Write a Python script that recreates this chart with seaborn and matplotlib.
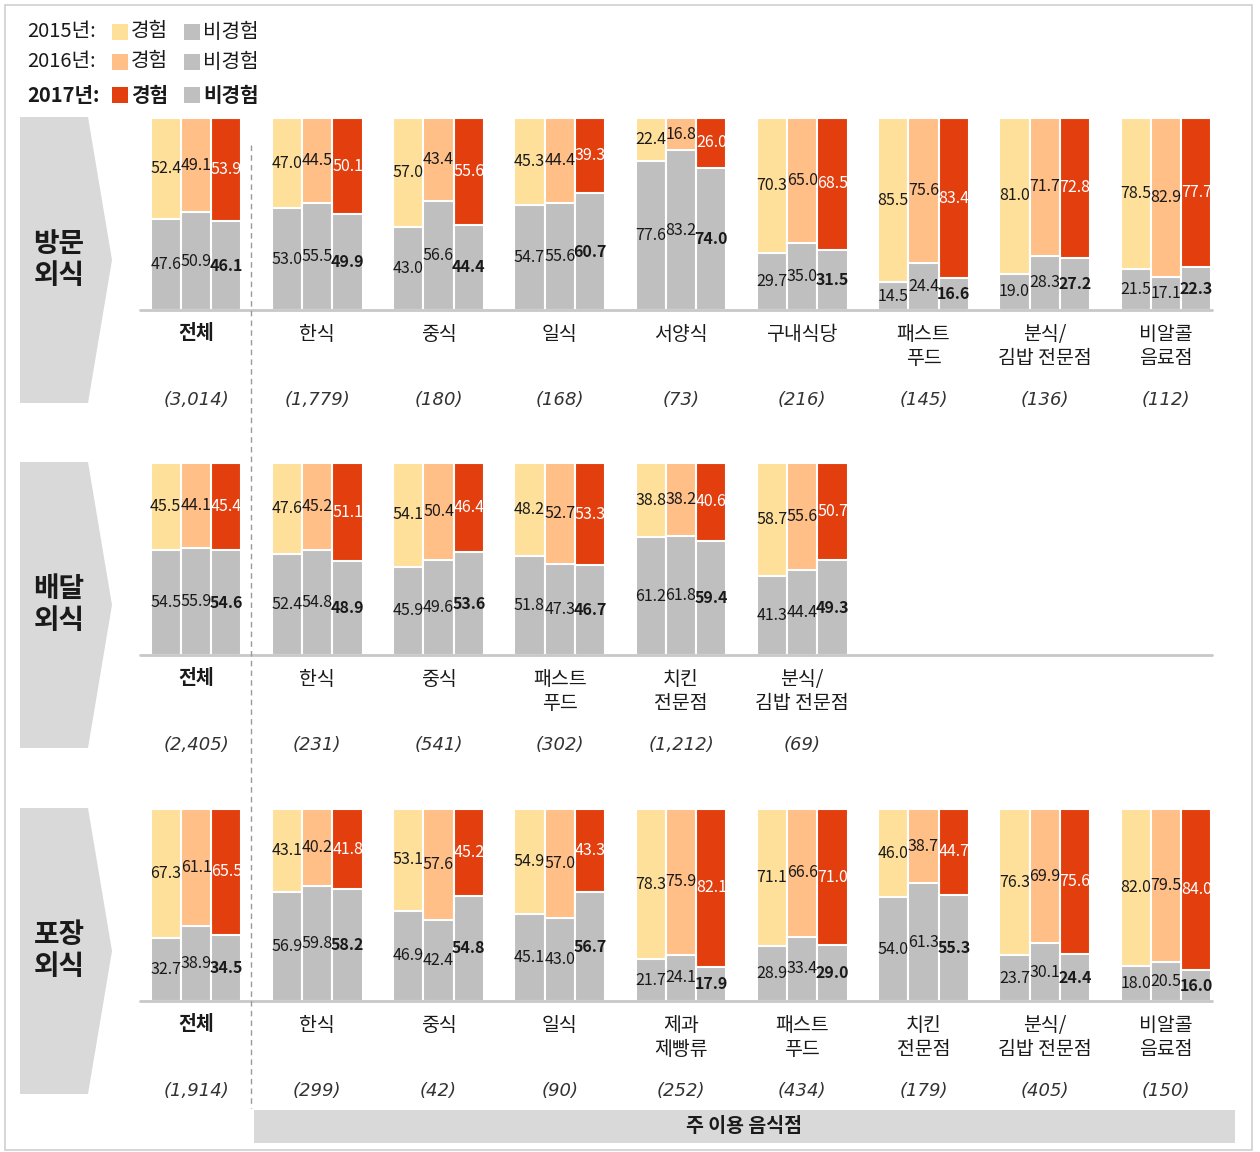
import numpy as np
import pandas as pd
import matplotlib
matplotlib.use('Agg')
import matplotlib.pyplot as plt
import seaborn as sns
from matplotlib.patches import Polygon, Rectangle
from matplotlib.lines import Line2D

years = ['2015', '2016', '2017']

# ---- 방문외식 ----
visit_cats = ['전체', '한식', '중식', '일식', '서양식', '구내식당', '패스트\n푸드', '분식/\n김밥 전문점', '비알콜\n음료점']
visit_n = ['(3,014)', '(1,779)', '(180)', '(168)', '(73)', '(216)', '(145)', '(136)', '(112)']
visit_exp_2015 = [52.4, 47.0, 57.0, 45.3, 22.4, 70.3, 85.5, 81.0, 78.5]
visit_exp_2016 = [49.1, 44.5, 43.4, 44.4, 16.8, 65.0, 75.6, 71.7, 82.9]
visit_exp_2017 = [53.9, 50.1, 55.6, 39.3, 26.0, 68.5, 83.4, 72.8, 77.7]
visit_non_2015 = [47.6, 53.0, 43.0, 54.7, 77.6, 29.7, 14.5, 19.0, 21.5]
visit_non_2016 = [50.9, 55.5, 56.6, 55.6, 83.2, 35.0, 24.4, 28.3, 17.1]
visit_non_2017 = [46.1, 49.9, 44.4, 60.7, 74.0, 31.5, 16.6, 27.2, 22.3]

# ---- 배달외식 ----
deliv_cats = ['전체', '한식', '중식', '패스트\n푸드', '치킨\n전문점', '분식/\n김밥 전문점']
deliv_n = ['(2,405)', '(231)', '(541)', '(302)', '(1,212)', '(69)']
deliv_exp_2015 = [45.5, 47.6, 54.1, 48.2, 38.8, 58.7]
deliv_exp_2016 = [44.1, 45.2, 50.4, 52.7, 38.2, 55.6]
deliv_exp_2017 = [45.4, 51.1, 46.4, 53.3, 40.6, 50.7]
deliv_non_2015 = [54.5, 52.4, 45.9, 51.8, 61.2, 41.3]
deliv_non_2016 = [55.9, 54.8, 49.6, 47.3, 61.8, 44.4]
deliv_non_2017 = [54.6, 48.9, 53.6, 46.7, 59.4, 49.3]

# ---- 포장외식 ----
take_cats = ['전체', '한식', '중식', '일식', '제과\n제빵류', '패스트\n푸드', '치킨\n전문점', '분식/\n김밥 전문점', '비알콜\n음료점']
take_n = ['(1,914)', '(299)', '(42)', '(90)', '(252)', '(434)', '(179)', '(405)', '(150)']
take_exp_2015 = [67.3, 43.1, 53.1, 54.9, 78.3, 71.1, 46.0, 76.3, 82.0]
take_exp_2016 = [61.1, 40.2, 57.6, 57.0, 75.9, 66.6, 38.7, 69.9, 79.5]
take_exp_2017 = [65.5, 41.8, 45.2, 43.3, 82.1, 71.0, 44.7, 75.6, 84.0]
take_non_2015 = [32.7, 56.9, 46.9, 45.1, 21.7, 28.9, 54.0, 23.7, 18.0]
take_non_2016 = [38.9, 59.8, 42.4, 43.0, 24.1, 33.4, 61.3, 30.1, 20.5]
take_non_2017 = [34.5, 58.2, 54.8, 56.7, 17.9, 29.0, 55.3, 24.4, 16.0]

panel_titles = ['방문\n외식', '배달\n외식', '포장\n외식']

sns.set_theme(style='white')
plt.rcParams['font.family'] = ['Noto Sans CJK KR', 'DejaVu Sans']

W, H = 1260, 1152
fig = plt.figure(figsize=(W / 100, H / 100), dpi=100)


def fx(x):
    return x / W


def fy(y):
    return 1 - y / H


exp_colors = ['#FEE09A', '#FFBF87', '#E23E0E']
gray = '#BFBFBF'
txt = '#1a1a1a'
val_size = 11.5

panels = [
    (visit_cats, visit_n, [visit_exp_2015, visit_exp_2016, visit_exp_2017],
     [visit_non_2015, visit_non_2016, visit_non_2017], 118, 310),
    (deliv_cats, deliv_n, [deliv_exp_2015, deliv_exp_2016, deliv_exp_2017],
     [deliv_non_2015, deliv_non_2016, deliv_non_2017], 463, 655),
    (take_cats, take_n, [take_exp_2015, take_exp_2016, take_exp_2017],
     [take_non_2015, take_non_2016, take_non_2017], 809, 1001),
]

ax_left, ax_width = 135.4, 1091.2

for pi, (cats, ns, exps, nons, top, bot) in enumerate(panels):
    rows = []
    for yi, yr in enumerate(years):
        for ci, c in enumerate(cats):
            rows.append(dict(cat=c, year=yr, exp=exps[yi][ci], non=nons[yi][ci]))
    df = pd.DataFrame(rows)
    df['total'] = df['exp'] + df['non']

    ax = fig.add_axes([fx(ax_left), fy(bot), ax_width / W, (bot - top) / H])
    sns.barplot(data=df, x='cat', y='total', hue='year', order=cats, hue_order=years,
                palette=exp_colors, width=0.75, edgecolor='white', linewidth=1.5,
                saturation=1, errorbar=None, legend=False, ax=ax)
    sns.barplot(data=df, x='cat', y='non', hue='year', order=cats, hue_order=years,
                palette={y: gray for y in years}, width=0.75, edgecolor='white', linewidth=1.5,
                saturation=1, errorbar=None, legend=False, ax=ax)
    ax.set_xlim(-0.5, 8.5)
    ax.set_ylim(0, 100)
    ax.set_yticks([])
    ax.set_xlabel('')
    ax.set_ylabel('')
    for s in ax.spines.values():
        s.set_visible(False)
    ax.tick_params(axis='x', length=0, pad=10, labelsize=14, labelcolor=txt)
    ax.get_xticklabels()[0].set_fontweight('bold')

    # experienced labels
    for yi, cont in enumerate(ax.containers[:3]):
        for bar, e, n in zip(cont, exps[yi], nons[yi]):
            xc = bar.get_x() + bar.get_width() / 2
            ax.text(xc, n + e / 2, f'{e:.1f}', ha='center', va='center',
                    fontsize=val_size, color='white' if yi == 2 else txt)
    # non-experienced labels
    for yi, cont in enumerate(ax.containers[3:6]):
        ax.bar_label(cont, labels=[f'{v:.1f}' for v in nons[yi]], label_type='center',
                     fontsize=val_size, color=txt, fontweight='bold' if yi == 2 else 'normal')

    # baseline
    ax.axhline(0, xmin=(140 - ax_left) / ax_width, xmax=(1212 - ax_left) / ax_width,
               color='#c8c8c8', lw=2, clip_on=False)

    # sample sizes
    for i, n in enumerate(ns):
        ax.text(i, -90 / (bot - top), n, transform=ax.get_xaxis_transform(),
                ha='center', va='center', fontsize=13, style='italic',
                family='DejaVu Sans', color='#333333')

    # chevron label
    ctop, cbot = top - 1, top + 285
    cmid = (ctop + cbot) / 2
    pts = [(fx(20), fy(ctop)), (fx(88), fy(ctop)), (fx(112), fy(cmid)),
           (fx(88), fy(cbot)), (fx(20), fy(cbot))]
    fig.add_artist(Polygon(pts, closed=True, transform=fig.transFigure,
                           facecolor='#d9d9d9', edgecolor='none'))
    fig.text(fx(59), fy(cmid), panel_titles[pi], ha='center', va='center',
             fontsize=20, fontweight='bold', color=txt, linespacing=1.15)

# dashed separator
fig.add_artist(Line2D([fx(251), fx(251)], [fy(145), fy(1108)], transform=fig.transFigure,
                      ls=(0, (4, 3)), color='#9a9a9a', lw=1))

# bottom bar
fig.add_artist(Rectangle((fx(254), fy(1143)), (1235 - 254) / W, (1143 - 1110) / H,
                         transform=fig.transFigure, facecolor='#d9d9d9', edgecolor='none'))
fig.text(fx(744), fy(1127), '주 이용 음식점', ha='center', va='center',
         fontsize=14, fontweight='bold', color=txt)

# figure border
fig.add_artist(Rectangle((fx(5), fy(1150)), 1247 / W, 1145 / H, transform=fig.transFigure,
                         fill=False, edgecolor='#cfcfcf', lw=1.2))

# legend
for yi, (yr, ry) in enumerate(zip(years, [32, 62, 95])):
    w = 'bold' if yi == 2 else 'normal'
    fig.text(fx(27), fy(ry), f'{yr}년:', ha='left', va='center', fontsize=14.5,
             fontweight=w, color=txt)
    fig.add_artist(Rectangle((fx(112), fy(ry + 8)), 16 / W, 16 / H, transform=fig.transFigure,
                             facecolor=exp_colors[yi], edgecolor='none'))
    fig.text(fx(131), fy(ry), '경험', ha='left', va='center', fontsize=14.5,
             fontweight=w, color=txt)
    fig.add_artist(Rectangle((fx(184), fy(ry + 8)), 16 / W, 16 / H, transform=fig.transFigure,
                             facecolor=gray, edgecolor='none'))
    fig.text(fx(203), fy(ry), '비경험', ha='left', va='center', fontsize=14.5,
             fontweight=w, color=txt)

fig.savefig('out.png', dpi=100)
